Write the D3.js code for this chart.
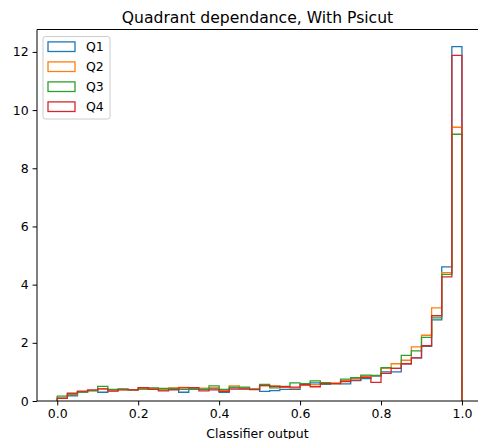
<!DOCTYPE html>
<html>
<head>
<meta charset="utf-8">
<script src="https://cdn.jsdelivr.net/npm/d3@7"></script>
<style>
  body { margin: 0; background: #fff; }
  svg { font-family: "DejaVu Sans", sans-serif; }
</style>
</head>
<body>
<div id="chart"></div>
<script>
// step histograms, 40 bins on [0, 1]
var binEdges = d3.range(41).map(function(i) { return i * 0.025 })
var seriesNames = ["Q1", "Q2", "Q3", "Q4"]
var colors = ["#1f77b4", "#ff7f0e", "#2ca02c", "#d62728"]

var q1 = [0.10,0.18,0.31,0.36,0.30,0.36,0.40,0.38,0.45,0.41,0.38,0.40,0.30,0.40,0.40,0.43,0.30,0.45,0.43,0.41,
          0.33,0.36,0.40,0.40,0.54,0.62,0.57,0.60,0.59,0.70,0.77,0.86,1.00,1.00,1.28,1.48,1.88,2.79,4.61,12.18]
var q2 = [0.10,0.22,0.32,0.36,0.42,0.36,0.39,0.38,0.40,0.43,0.40,0.45,0.47,0.43,0.44,0.45,0.36,0.52,0.45,0.41,
          0.53,0.52,0.47,0.44,0.55,0.56,0.60,0.62,0.71,0.78,0.85,0.87,1.12,1.28,1.40,1.86,2.26,3.20,4.41,9.41]
var q3 = [0.17,0.25,0.31,0.36,0.50,0.40,0.42,0.38,0.42,0.45,0.43,0.43,0.40,0.42,0.41,0.52,0.40,0.48,0.48,0.41,
          0.57,0.45,0.50,0.62,0.60,0.69,0.63,0.60,0.75,0.80,0.89,0.88,1.15,1.12,1.57,1.72,2.19,2.86,4.35,9.17]
var q4 = [0.09,0.27,0.34,0.38,0.42,0.34,0.38,0.38,0.46,0.40,0.35,0.38,0.45,0.46,0.35,0.38,0.33,0.41,0.41,0.39,
          0.53,0.50,0.49,0.48,0.56,0.49,0.60,0.60,0.67,0.72,0.81,0.64,0.95,1.12,1.28,1.48,1.90,2.93,4.27,11.88]
var allSeries = [q1, q2, q3, q4]

var xTicks = [0, 0.2, 0.4, 0.6, 0.8, 1.0]
var yTicks = [0, 2, 4, 6, 8, 10, 12]

var W = 478, H = 439
// plot box (note: "top" is taken by window.top, so use other names)
var pLeft = 37, pRight = 478, pTop = 29.5, pBottom = 401

var svg = d3.select("#chart").append("svg")
  .attr("width", W).attr("height", H)

var x = d3.scaleLinear().domain([-0.05, 1.05]).range([pLeft, 482.2])
var y = d3.scaleLinear().domain([0, 12.77]).range([pBottom, pTop])

svg.append("clipPath").attr("id", "plotclip")
  .append("rect")
  .attr("x", pLeft).attr("y", pTop)
  .attr("width", pRight - pLeft).attr("height", pBottom - pTop)

var plot = svg.append("g").attr("clip-path", "url(#plotclip)")

// build the step outline like matplotlib histtype='step'
function stepPoints(vals) {
  var pts = [[binEdges[0], 0]]
  vals.forEach(function(v, i) {
    pts.push([binEdges[i], v])
    pts.push([binEdges[i + 1], v])
  })
  pts.push([binEdges[binEdges.length - 1], 0])
  return pts
}

var line = d3.line()
  .x(function(d) { return x(d[0]) })
  .y(function(d) { return y(d[1]) })

allSeries.forEach(function(vals, k) {
  plot.append("path")
    .attr("d", line(stepPoints(vals)))
    .attr("fill", "none")
    .attr("stroke", colors[k])
    .attr("stroke-width", 1.3)
    .attr("stroke-linejoin", "miter")
})

// axes
var xAxis = d3.axisBottom(x).tickValues(xTicks)
  .tickFormat(d3.format(".1f")).tickSizeInner(4.4).tickSizeOuter(0).tickPadding(4)
var yAxis = d3.axisLeft(y).tickValues(yTicks)
  .tickFormat(d3.format("d")).tickSizeInner(4.4).tickSizeOuter(0).tickPadding(4)

var gx = svg.append("g").attr("transform", "translate(0," + pBottom + ")").call(xAxis)
var gy = svg.append("g").attr("transform", "translate(" + pLeft + ",0)").call(yAxis)
gx.select(".domain").remove()
gy.select(".domain").remove()
;[gx, gy].forEach(function(g) {
  g.selectAll("text").attr("font-size", 12.5).attr("fill", "#000")
    .attr("font-family", "DejaVu Sans")
  g.selectAll("line").attr("stroke", "#000").attr("stroke-width", 1)
})

// spines
var spines = svg.append("g").attr("stroke", "#000").attr("stroke-width", 1).attr("fill", "none")
spines.append("line").attr("x1", pLeft).attr("x2", pLeft).attr("y1", pTop).attr("y2", pBottom)
spines.append("line").attr("x1", pLeft).attr("x2", W).attr("y1", pBottom).attr("y2", pBottom)
spines.append("line").attr("x1", pLeft).attr("x2", W).attr("y1", pTop).attr("y2", pTop)
spines.append("line").attr("x1", pRight + 0.5).attr("x2", pRight + 0.5).attr("y1", pTop).attr("y2", pBottom)

svg.append("text")
  .attr("x", (pLeft + pRight) / 2).attr("y", 22.5)
  .attr("text-anchor", "middle")
  .attr("font-size", 15.6)
  .text("Quadrant dependance, With Psicut")

svg.append("text")
  .attr("x", (pLeft + pRight) / 2).attr("y", 437.5)
  .attr("text-anchor", "middle")
  .attr("font-size", 12.5)
  .text("Classifier output")

// legend
var legend = svg.append("g")
legend.append("rect")
  .attr("x", 43).attr("y", 36.5).attr("width", 67).attr("height", 82.5)
  .attr("rx", 2.5)
  .attr("fill", "#fff").attr("fill-opacity", 0.8)
  .attr("stroke", "#cccccc").attr("stroke-width", 1)

seriesNames.forEach(function(name, k) {
  var cy = 46.7 + k * 20
  legend.append("rect")
    .attr("x", 48).attr("y", cy - 4.8).attr("width", 27).attr("height", 9.6)
    .attr("fill", "none").attr("stroke", colors[k]).attr("stroke-width", 1.3)
  legend.append("text")
    .attr("x", 86).attr("y", cy + 4.5)
    .attr("font-size", 12.5)
    .text(name)
})
</script>
</body>
</html>
